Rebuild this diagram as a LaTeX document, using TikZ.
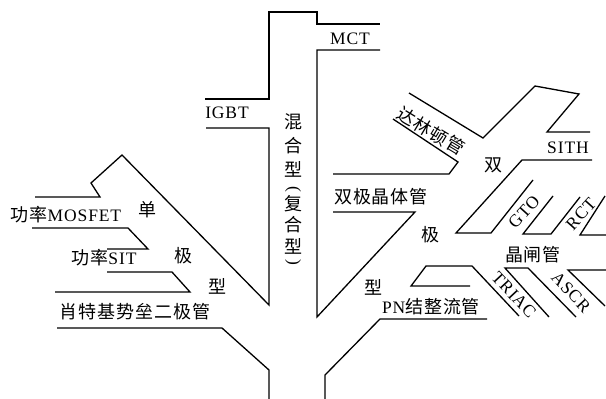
\documentclass[tikz,border=0pt]{standalone}
\usepackage{fontspec}
\setmainfont{Liberation Serif}
\newfontfamily\cjkfont[LetterSpace=5]{Noto Sans CJK SC}
\newfontfamily\latfont[LetterSpace=5]{Liberation Serif}
\newcommand{\zhtxt}[1]{{\cjkfont\fontsize{18}{20}\selectfont #1}}
\newcommand{\entxt}[1]{{\latfont\fontsize{17.5}{19}\selectfont #1}}
\tikzset{
  ln/.style={line width=1.3pt, line join=miter, line cap=butt},
  lbl/.style={inner sep=0pt, outer sep=0pt, anchor=center}
}
\begin{document}
\begin{tikzpicture}[x=1pt,y=-1pt]
\useasboundingbox (0,0) rectangle (606,399);
% ---------- outline coordinates ----------
% trunk and hybrid branch
\coordinate (a1) at (205,99);  \coordinate (a2) at (269,99);
\coordinate (a3) at (269,12);  \coordinate (a4) at (317,12);
\coordinate (a5) at (317,24);  \coordinate (a6) at (380,24);
\draw[ln] (a1) -- (a2) -- (a3) -- (a4) -- (a5) -- (a6);
% left (unipolar) side
\coordinate (b1) at (206,128); \coordinate (b2) at (269,128);
\coordinate (b3) at (269,305); \coordinate (b4) at (122,155);
\coordinate (b5) at (91,183);  \coordinate (b6) at (100,197);
\coordinate (b7) at (35,197);
\draw[ln] (b1) -- (b2) -- (b3) -- (b4) -- (b5) -- (b6) -- (b7);
\coordinate (c1) at (32,228);  \coordinate (c2) at (128,228);
\coordinate (c3) at (148,249); \coordinate (c4) at (107,249);
\draw[ln] (c1) -- (c2) -- (c3) -- (c4);
\coordinate (d1) at (107,272); \coordinate (d2) at (172,272);
\coordinate (d3) at (190,292); \coordinate (d4) at (55,292);
\draw[ln] (d1) -- (d2) -- (d3) -- (d4);
\coordinate (e1) at (57,328);  \coordinate (e2) at (222,328);
\coordinate (e3) at (269,370); \coordinate (e4) at (269,399);
\draw[ln] (e1) -- (e2) -- (e3) -- (e4);
% right (bipolar) side
\coordinate (f1) at (380,50);  \coordinate (f2) at (317,50);
\coordinate (f3) at (317,317); \coordinate (f4) at (415,212);
\coordinate (f5) at (333,212);
\draw[ln] (f1) -- (f2) -- (f3) -- (f4) -- (f5);
\coordinate (g1) at (333,174); \coordinate (g2) at (449,174);
\coordinate (g3) at (458,162); \coordinate (g4) at (393,119);
\draw[ln] (g1) -- (g2) -- (g3) -- (g4);
\coordinate (h1) at (409,93);  \coordinate (h2) at (483,138);
\coordinate (h3) at (535,86);  \coordinate (h4) at (579,94);
\coordinate (h5) at (547,132); \coordinate (h6) at (590,132);
\draw[ln] (h1) -- (h2) -- (h3) -- (h4) -- (h5) -- (h6);
\coordinate (i1) at (592,160); \coordinate (i2) at (522,160);
\coordinate (i3) at (456,233); \coordinate (i4) at (491,233);
\coordinate (i5) at (533,180);
\draw[ln] (i1) -- (i2) -- (i3) -- (i4) -- (i5);
\coordinate (j1) at (553,196); \coordinate (j2) at (523,234);
\coordinate (j3) at (551,234); \coordinate (j4) at (580,197);
\draw[ln] (j1) -- (j2) -- (j3) -- (j4);
\coordinate (k1) at (605,196); \coordinate (k2) at (580,235);
\coordinate (k3) at (606,235);
\draw[ln] (k1) -- (k2) -- (k3);
% lower right
\coordinate (m1) at (487,319); \coordinate (m2) at (380,319);
\coordinate (m3) at (325,375); \coordinate (m4) at (325,399);
\draw[ln] (m1) -- (m2) -- (m3) -- (m4);
\coordinate (n1) at (470,286); \coordinate (n2) at (411,286);
\coordinate (n3) at (426,266); \coordinate (n4) at (472,266);
\coordinate (n5) at (519,316);
\draw[ln] (n1) -- (n2) -- (n3) -- (n4) -- (n5);
\coordinate (o1) at (549,317); \coordinate (o2) at (505,268);
\coordinate (o3) at (528,268); \coordinate (o4) at (576,317);
\draw[ln] (o1) -- (o2) -- (o3) -- (o4);
\coordinate (q1) at (606,270); \coordinate (q2) at (568,270);
\coordinate (q3) at (605,306);
\draw[ln] (q1) -- (q2) -- (q3);
% ---------- labels ----------
\node[lbl] (igbt) at (227,113) {\entxt{IGBT}};
\node[lbl] (mct) at (350,39) {\entxt{MCT}};
\node[lbl] (v1) at (293,122) {\zhtxt{混}};
\node[lbl] (v2) at (293,146) {\zhtxt{合}};
\node[lbl] (v3) at (293,169) {\zhtxt{型}};
\node[lbl,rotate=-90] (v4) at (293,189) {\entxt{(}};
\node[lbl] (v5) at (293,204) {\zhtxt{复}};
\node[lbl] (v6) at (293,225) {\zhtxt{合}};
\node[lbl] (v7) at (293,246) {\zhtxt{型}};
\node[lbl,rotate=-90] (v8) at (293,262) {\entxt{)}};
% unipolar
\node[lbl] (mosfet) at (66,215) {\zhtxt{功率}\entxt{MOSFET}};
\node[lbl] (u1) at (147,210) {\zhtxt{单}};
\node[lbl] (sit) at (104,258) {\zhtxt{功率}\entxt{SIT}};
\node[lbl] (u2) at (183,256) {\zhtxt{极}};
\node[lbl] (u3) at (217,286) {\zhtxt{型}};
\node[lbl] (sbd) at (135,312) {\zhtxt{肖特基势垒二极管}};
% bipolar
\node[lbl,rotate=-31] (darl) at (431,131) {\zhtxt{达林顿管}};
\node[lbl] (w1) at (493,165) {\zhtxt{双}};
\node[lbl] (sith) at (568,148) {\entxt{SITH}};
\node[lbl] (bjt) at (381,197) {\zhtxt{双极晶体管}};
\node[lbl] (w2) at (430,235) {\zhtxt{极}};
\node[lbl] (w3) at (373,287) {\zhtxt{型}};
\node[lbl] (pn) at (431,307) {\entxt{PN}\zhtxt{结整流管}};
\node[lbl,rotate=48] (gto) at (524,212) {\entxt{GTO}};
\node[lbl,rotate=48] (rct) at (581,214) {\entxt{RCT}};
\node[lbl] (thy) at (533,255) {\zhtxt{晶闸管}};
\node[lbl,rotate=-47] (triac) at (514,295) {\entxt{TRIAC}};
\node[lbl,rotate=-47] (ascr) at (571,292) {\entxt{ASCR}};
\end{tikzpicture}
\end{document}
